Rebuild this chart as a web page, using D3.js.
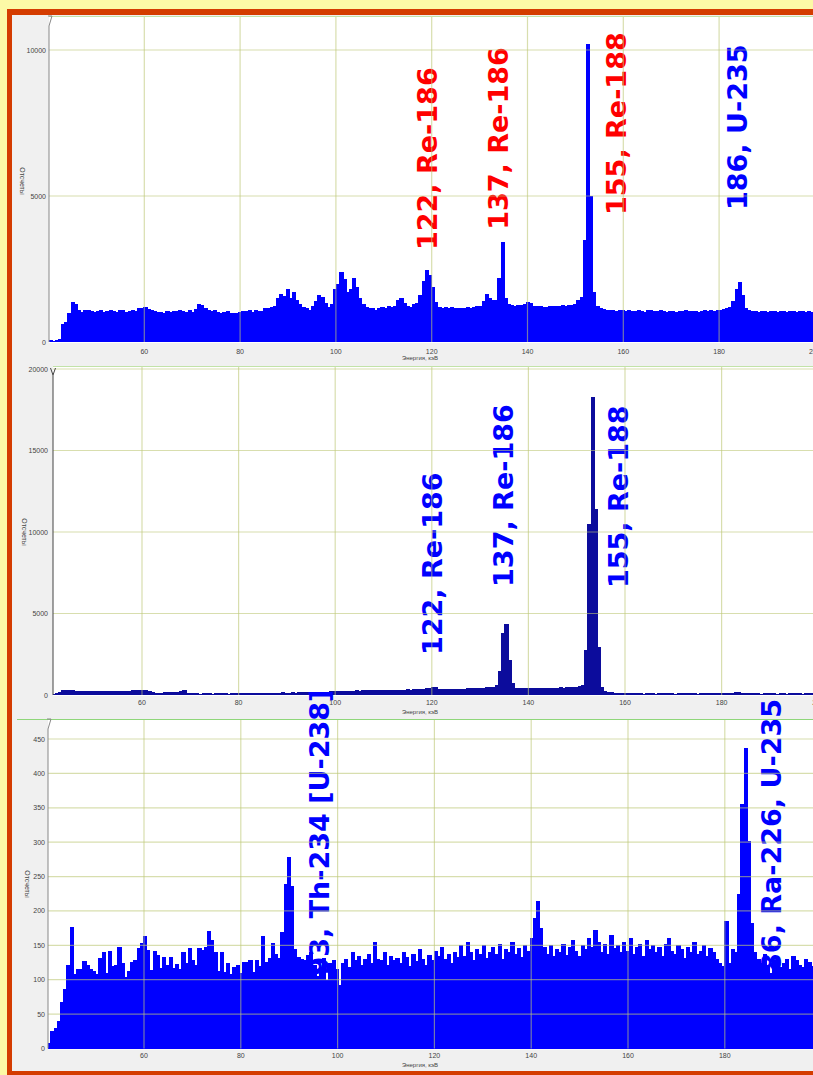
<!DOCTYPE html>
<html>
<head>
<meta charset="utf-8">
<script src="https://cdn.jsdelivr.net/npm/d3@7"></script>
<style>
body { margin: 0; background: #fcf9a6; }
svg { display: block; }
text { font-family: "Liberation Sans", Arial, sans-serif; }
.peak { font-family: "DejaVu Sans", Verdana, sans-serif; }
</style>
</head>
<body>
<svg width="813" height="1075"></svg>
<script>
// спектры: каналы по 0.66 кэВ начиная с 40 кэВ
var startEnergy = 40, binWidth = 0.66;
var xTicks = [60, 80, 100, 120, 140, 160, 180, 200];

var counts1 = [
  60, 50, 60, 100, 600, 700, 990, 1380, 1300, 1100,
  1040, 1080, 1100, 1050, 1020, 1060, 1080, 1040, 1060, 1090,
  1070, 1040, 1100, 1080, 1030, 1060, 1110, 1050, 1150, 1180,
  1200, 1120, 1080, 1060, 1040, 1030, 1000, 1050, 1020, 1070,
  1060, 1080, 1050, 1040, 1100, 1040, 1120, 1300, 1280, 1150,
  1100, 1060, 1080, 1040, 1000, 1030, 1050, 980, 1010, 1000,
  1020, 1060, 1050, 1080, 1030, 1100, 1070, 1060, 1150, 1180,
  1200, 1250, 1520, 1650, 1580, 1800, 1500, 1700, 1450, 1300,
  1200, 1150, 1100, 1250, 1400, 1600, 1550, 1350, 1200, 1300,
  1800, 2000, 2400, 2150, 1700, 1800, 2200, 1900, 1500, 1300,
  1200, 1150, 1180, 1100, 1150, 1200, 1180, 1220, 1200, 1250,
  1450, 1500, 1350, 1250, 1200, 1300, 1350, 1600, 2100, 2450,
  2300, 1900, 1380, 1200, 1180, 1190, 1170, 1200, 1180, 1160,
  1150, 1180, 1200, 1170, 1190, 1220, 1250, 1400, 1640, 1500,
  1440, 1450, 2190, 3420, 1500, 1300, 1270, 1250, 1260, 1280,
  1300, 1380, 1350, 1250, 1220, 1230, 1200, 1210, 1240, 1220,
  1230, 1250, 1260, 1240, 1270, 1280, 1300, 1450, 1550, 3500,
  10200, 5000, 1700, 1250, 1150, 1120, 1100, 1080, 1100, 1070,
  1090, 1100, 1060, 1080, 1050, 1070, 1100, 1060, 1040, 1080,
  1100, 1070, 1050, 1080, 1060, 1040, 1050, 1070, 1030, 1060,
  1050, 1080, 1060, 1070, 1050, 1040, 1060, 1080, 1070, 1100,
  1050, 1080, 1100, 1120, 1150, 1200, 1400, 1800, 2050, 1600,
  1150, 1080, 1050, 1070, 1040, 1060, 1050, 1030, 1070, 1060,
  1040, 1050, 1060, 1030, 1050, 1070, 1040, 1060, 1050, 1040,
  1050, 1030, 1060, 1050
];

var counts2 = [
  0, 0, 50, 120, 200, 280, 300, 320, 280, 260,
  260, 250, 240, 250, 260, 240, 250, 230, 260, 250,
  240, 250, 260, 230, 250, 270, 260, 280, 290, 300,
  290, 280, 220, 180, 150, 140, 150, 170, 160, 180,
  200, 190, 270, 280, 150, 120, 100, 100, 90, 100,
  110, 100, 90, 120, 100, 110, 100, 90, 110, 100,
  110, 100, 120, 110, 130, 120, 110, 130, 140, 120,
  130, 150, 140, 130, 160, 150, 140, 160, 150, 170,
  160, 170, 180, 170, 190, 200, 180, 210, 200, 220,
  240, 250, 230, 260, 250, 270, 260, 280, 270, 290,
  280, 300, 290, 310, 300, 290, 320, 310, 300, 320,
  310, 330, 320, 340, 330, 350, 340, 360, 380, 420,
  420, 510, 480, 380, 360, 370, 350, 360, 380, 370,
  390, 380, 400, 410, 420, 430, 440, 460, 480, 520,
  520, 610, 1470, 3800, 4360, 2150, 720, 450, 420, 410,
  400, 420, 410, 430, 420, 440, 430, 450, 440, 460,
  450, 470, 460, 480, 490, 500, 520, 550, 600, 2760,
  10500, 18300, 11400, 2960, 510, 220, 180, 160, 150, 140,
  130, 120, 110, 120, 100, 110, 100, 90, 100, 110,
  100, 90, 110, 100, 95, 105, 100, 90, 100, 110,
  100, 95, 105, 100, 90, 100, 110, 100, 95, 100,
  105, 100, 110, 120, 130, 150, 170, 160, 130, 110,
  100, 95, 105, 100, 90, 100, 95, 105, 100, 90,
  100, 95, 90, 100, 105, 95, 100, 90, 95, 100,
  95, 100, 90, 95
];

var counts3 = [
  8, 25, 30, 40, 67, 87, 122, 177, 108, 115,
  115, 127, 121, 115, 112, 108, 131, 141, 110, 142,
  120, 121, 148, 124, 104, 112, 126, 128, 146, 154,
  164, 143, 114, 142, 136, 117, 133, 121, 133, 117,
  123, 115, 140, 124, 146, 129, 121, 146, 143, 147,
  171, 158, 141, 112, 140, 111, 124, 109, 118, 122,
  110, 126, 126, 129, 111, 128, 120, 163, 126, 132,
  153, 138, 132, 169, 239, 278, 236, 145, 133, 130,
  128, 136, 140, 122, 105, 118, 132, 100, 125, 128,
  115, 92, 125, 130, 118, 140, 128, 135, 122, 130,
  138, 125, 155, 130, 128, 140, 122, 135, 128, 132,
  125, 140, 133, 120, 138, 127, 145, 130, 122, 136,
  128, 142, 135, 148, 130, 138, 125, 140, 133, 150,
  135, 155, 140, 128, 145, 138, 150, 132, 140, 148,
  137, 152, 130, 145, 140, 155, 138, 146, 133, 150,
  142, 160, 190, 215, 175, 148, 138, 150, 135, 145,
  140, 152, 136, 148, 158, 142, 135, 150, 145, 160,
  148, 172, 155, 140, 152, 138, 165, 146, 150, 140,
  155, 142, 160, 138, 148, 152, 135, 158, 144, 150,
  140, 148, 135, 152, 160, 142, 138, 150, 145, 132,
  148, 140, 155, 138, 142, 150, 135, 146, 140, 130,
  125, 120, 186, 125, 145, 140, 225, 356, 437, 302,
  182, 140, 130, 125, 138, 120, 110, 128, 132, 118,
  125, 130, 115, 135, 128, 122, 118, 130, 126, 120,
  125, 118, 130, 122
];

var yTicks1 = [0, 5000, 10000];
var yTicks2 = [0, 5000, 10000, 15000, 20000];
var yTicks3 = [0, 50, 100, 150, 200, 250, 300, 350, 400, 450];

// подписи пиков: текст, энергия (кэВ), уровень (отсчеты) где начинается надпись
var peakText1 = ["122, Re-186", "137, Re-186", "155, Re-188", "186, U-235"];
var peakEnergy1 = [121.1, 135.9, 160.5, 185.9];
var peakLevel1 = [3150, 3840, 4350, 4520];
var peakColor1 = ["#f00", "#f00", "#f00", "#0000ff"];

var peakText2 = ["122, Re-186", "137, Re-186", "155, Re-188"];
var peakEnergy2 = [122.1, 136.8, 160.6];
var peakLevel2 = [2450, 6630, 6560];

var peakText3 = ["93, Th-234 [U-238]", "186, Ra-226, U-235"];
var peakEnergy3 = [98.2, 191.6];
var peakLevel3 = [106, 84];

var svg = d3.select("svg");

// красная рамка и серый фон
svg.append("rect").attr("x", 7).attr("y", 9).attr("width", 820).attr("height", 1070).attr("fill", "#d43c00");
svg.append("rect").attr("x", 12).attr("y", 15).attr("width", 810).attr("height", 1056).attr("fill", "#f0f0f0");

var panels = [
  {counts: counts1, yTicks: yTicks1, yDomain: [0, 10000], top: 16, base: 342, yTop: 50, axisX: 49, x40: 48.5, k: 4.79,
   color: "#0000ff", texts: peakText1, energies: peakEnergy1, levels: peakLevel1, colors: peakColor1,
   labelRight: 46, titleX: 19.5, titleY: 181, tickY: 354, xTitleY: 360, cap: "7"},
  {counts: counts2, yTicks: yTicks2, yDomain: [0, 20000], top: 366, base: 695, yTop: 369, axisX: 53, x40: 45.4, k: 4.83,
   color: "#0c0c9c", texts: peakText2, energies: peakEnergy2, levels: peakLevel2, colors: null,
   labelRight: 48, titleX: 22, titleY: 532, tickY: 705, xTitleY: 714, cap: "V"},
  {counts: counts3, yTicks: yTicks3, yDomain: [0, 450], top: 719, base: 1048.5, yTop: 739, axisX: 48, x40: 47.2, k: 4.84,
   color: "#0000ff", texts: peakText3, energies: peakEnergy3, levels: peakLevel3, colors: null,
   labelRight: 45, titleX: 25, titleY: 884, tickY: 1058, xTitleY: 1067, cap: "7"}
];

panels.forEach(function(p, n) {
  var x = d3.scaleLinear().domain([40, 200]).range([p.x40, p.x40 + 160 * p.k]);
  var y = d3.scaleLinear().domain(p.yDomain).range([p.base, p.yTop]);

  var clipId = "clip" + n;
  svg.append("clipPath").attr("id", clipId)
     .append("rect").attr("x", p.axisX).attr("y", p.top).attr("width", 813 - p.axisX).attr("height", p.base - p.top + 1);

  var g = svg.append("g");

  // белое поле графика
  g.append("rect").attr("x", p.axisX).attr("y", p.top).attr("width", 813 - p.axisX).attr("height", p.base - p.top + 1)
   .attr("fill", "#fff");

  // надписи пиков (под столбцами, не обрезаются полем)
  g.selectAll(".peak")
   .data(p.texts)
   .enter().append("text")
   .attr("class", "peak")
   .attr("transform", function(d, i) { return "translate(" + x(p.energies[i]) + "," + y(p.levels[i]) + ") rotate(-90)"; })
   .attr("font-size", 27)
   .attr("font-weight", "bold")
   .attr("fill", function(d, i) { return p.colors ? p.colors[i] : "#0000ff"; })
   .text(function(d) { return d; });

  var plot = g.append("g").attr("clip-path", "url(#" + clipId + ")");

  // гистограмма
  plot.selectAll(".bar")
      .data(p.counts)
      .enter().append("rect")
      .attr("class", "bar")
      .attr("x", function(d, i) { return x(startEnergy + i * binWidth); })
      .attr("width", function(d, i) { return x(startEnergy + (i + 1) * binWidth) - x(startEnergy + i * binWidth) + 1; })
      .attr("y", function(d) { return y(d); })
      .attr("height", function(d) { return p.base - y(d); })
      .attr("fill", p.color)
      .attr("shape-rendering", "crispEdges");

  // сетка поверх столбцов
  plot.selectAll(".vgrid")
      .data(xTicks)
      .enter().append("line")
      .attr("x1", function(d) { return x(d); }).attr("x2", function(d) { return x(d); })
      .attr("y1", p.top).attr("y2", p.base)
      .attr("stroke", "rgb(190,200,120)").attr("stroke-opacity", 0.6).attr("stroke-width", 1.2);

  plot.selectAll(".hgrid")
      .data(p.yTicks.filter(function(d) { return d > 0; }))
      .enter().append("line")
      .attr("x1", p.axisX).attr("x2", 813)
      .attr("y1", function(d) { return y(d); }).attr("y2", function(d) { return y(d); })
      .attr("stroke", "rgb(190,200,120)").attr("stroke-opacity", 0.6).attr("stroke-width", 1.2);

  // верхняя зеленая линия
  g.append("line").attr("x1", n == 2 ? 17 : p.axisX).attr("x2", 813).attr("y1", p.top + 0.5).attr("y2", p.top + 0.5)
   .attr("stroke", n == 2 ? "#8fd67a" : "#c2e2a8").attr("stroke-width", 1.2);

  // ось Y
  if (p.cap == "V") {
    g.append("path")
     .attr("d", "M" + (p.axisX - 2.5) + "," + (p.top + 2) + " L" + p.axisX + "," + (p.top + 9) + " L" + (p.axisX + 2.5) + "," + (p.top + 2) +
                " M" + p.axisX + "," + (p.top + 9) + " L" + p.axisX + "," + p.base)
     .attr("fill", "none").attr("stroke", "#444").attr("stroke-width", 1);
  } else {
    g.append("path")
     .attr("d", "M" + (p.axisX - 1) + "," + p.top + " L" + (p.axisX + 3) + "," + p.top + " L" + p.axisX + "," + (p.top + 10) + " L" + p.axisX + "," + p.base)
     .attr("fill", "none").attr("stroke", "#888").attr("stroke-width", 1);
  }

  // подписи оси Y
  g.selectAll(".ytick")
   .data(p.yTicks)
   .enter().append("text")
   .attr("x", p.labelRight)
   .attr("y", function(d) { return y(d) + 2.5; })
   .attr("text-anchor", "end")
   .attr("font-size", 7)
   .attr("fill", "#444")
   .text(function(d) { return d; });

  // подписи оси X
  g.selectAll(".xtick")
   .data(xTicks)
   .enter().append("text")
   .attr("x", function(d) { return x(d); })
   .attr("y", p.tickY)
   .attr("text-anchor", "middle")
   .attr("font-size", 7)
   .attr("fill", "#444")
   .text(function(d) { return d; });

  g.append("text")
   .attr("x", 420).attr("y", p.xTitleY)
   .attr("text-anchor", "middle")
   .attr("font-size", 6)
   .attr("fill", "#444")
   .text("Энергия, кэВ");

  g.append("text")
   .attr("transform", "translate(" + p.titleX + "," + p.titleY + ") rotate(90)")
   .attr("text-anchor", "middle")
   .attr("font-size", 7)
   .attr("fill", "#444")
   .text("Отсчеты");
});
</script>
</body>
</html>
